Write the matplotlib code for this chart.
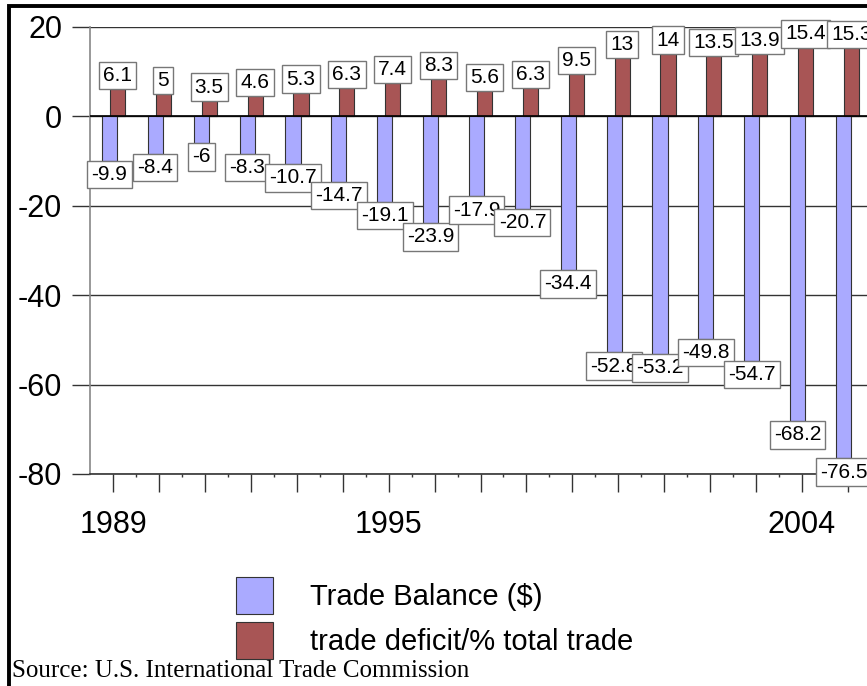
import matplotlib
matplotlib.use('Agg')
import matplotlib.pyplot as plt
from matplotlib.patches import Rectangle
import numpy as np

# data
years = list(range(1989, 2006))
trade_balance = [-9.9, -8.4, -6, -8.3, -10.7, -14.7, -19.1, -23.9, -17.9,
                 -20.7, -34.4, -52.8, -53.2, -49.8, -54.7, -68.2, -76.5]
deficit_pct = [6.1, 5, 3.5, 4.6, 5.3, 6.3, 7.4, 8.3, 5.6, 6.3, 9.5,
               13, 14, 13.5, 13.9, 15.4, 15.3]
shown_years = ['1989', '1995', '2004']
yticks = [20, 0, -20, -40, -60, -80]

plt.rcParams['font.family'] = ['Liberation Sans', 'DejaVu Sans']
plt.rcParams['axes.unicode_minus'] = False

W, H = 867, 686
fig = plt.figure(figsize=(W / 100, H / 100), dpi=100)
ax = fig.add_axes([90 / W, 212 / H, 781 / W, 447 / H])

x = np.arange(len(years))
off = 0.087
bw = 0.33
blue = ax.bar(x - off, trade_balance, bw, color='#AAAAFF',
              edgecolor='#333333', linewidth=0.8, zorder=3,
              label='Trade Balance ($)')
red = ax.bar(x + off, deficit_pct, bw, color='#A85555',
             edgecolor='#333333', linewidth=0.8, zorder=3,
             label='trade deficit/% total trade')

ax.set_xlim(-0.512, len(years) - 1 + 0.512)
ax.set_ylim(-80, 20)

# gridlines
ax.set_yticks(yticks)
ax.yaxis.grid(True, color='#333333', linewidth=1.0, zorder=1)
ax.axhline(0, color='black', linewidth=1.2, zorder=4)
ax.tick_params(axis='y', length=13, width=1.0, color='#333333', pad=7,
               labelsize=22)

# category axis, only a few years are labelled
ax.set_xticks(x)
labels = [str(y) if str(y) in shown_years else '' for y in years]
ax.set_xticklabels(labels)
ax.set_xticks(x[:-1] + 0.5, minor=True)
ax.tick_params(axis='x', which='major', length=13, width=1.0,
               color='#333333', pad=13, labelsize=22)
ax.tick_params(axis='x', which='minor', length=2, width=1.0,
               color='#333333')

for s in ['top', 'right']:
    ax.spines[s].set_visible(False)
ax.spines['left'].set_color('#888888')
ax.spines['left'].set_linewidth(1.2)
ax.spines['bottom'].set_color('#333333')
ax.spines['bottom'].set_linewidth(1.2)

box = dict(boxstyle='square,pad=0.2', facecolor='white',
           edgecolor='#777777', linewidth=1.0)
for i, v in enumerate(deficit_pct):
    ax.annotate('%g' % v, xy=(i + off, v), xytext=(0, 3),
                textcoords='offset points', ha='center', va='bottom',
                fontsize=15, bbox=box, zorder=5, annotation_clip=False)
for i, v in enumerate(trade_balance):
    ax.annotate('%g' % v, xy=(i - off, v), xytext=(0, -3),
                textcoords='offset points', ha='center', va='top',
                fontsize=15, bbox=box, zorder=5, annotation_clip=False)

fig.legend(handles=[blue, red], loc='upper left',
           bbox_to_anchor=(236 / W, 1 - 577 / H), frameon=False,
           fontsize=21, handlelength=1.27, handleheight=1.55,
           labelspacing=0.3, handletextpad=1.25, borderpad=0,
           borderaxespad=0)

fig.text(12 / W, 9 / H, 'Source: U.S. International Trade Commission',
         family='Liberation Serif', fontsize=18, zorder=10)

# thick border of the original frame (right and bottom edges are cut off)
fig.patches.append(Rectangle((9 / W, -0.5), 2, 1.5 - 6 / H, fill=False,
                             edgecolor='black', linewidth=2.8,
                             transform=fig.transFigure))

fig.savefig('out.png', dpi=100)
